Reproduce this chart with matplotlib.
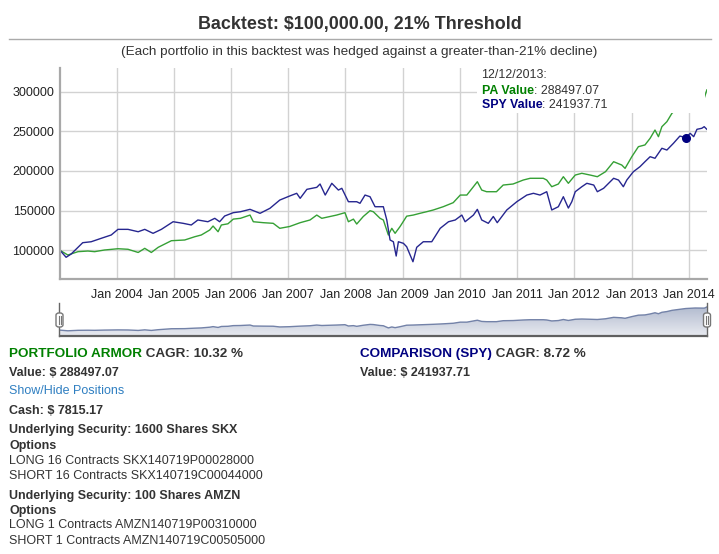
import numpy as np
import pandas as pd
import matplotlib
matplotlib.use('Agg')
import matplotlib.pyplot as plt
import matplotlib.dates as mdates
from matplotlib.patches import Rectangle, FancyBboxPatch
from matplotlib.lines import Line2D
from matplotlib.colors import LinearSegmentedColormap

plt.rcParams['font.family'] = ['Liberation Sans', 'DejaVu Sans']

#
#  Data.
#
spy_dates = ['2003-01-05', '2003-02-13', '2003-03-17', '2003-05-30', '2003-07-23',
             '2003-09-25', '2003-11-28', '2004-01-10', '2004-03-14', '2004-05-18',
             '2004-06-29', '2004-08-21', '2004-10-13', '2004-12-27', '2005-03-01',
             '2005-04-22', '2005-06-03', '2005-08-06', '2005-09-19', '2005-10-20',
             '2005-11-21', '2006-01-15', '2006-03-02', '2006-05-02', '2006-07-05',
             '2006-09-06', '2006-11-08', '2007-01-10', '2007-02-24', '2007-03-18',
             '2007-04-30', '2007-07-02', '2007-07-23', '2007-08-25', '2007-10-06',
             '2007-11-17', '2007-12-09', '2008-01-20', '2008-03-13', '2008-04-03',
             '2008-05-05', '2008-06-06', '2008-07-08', '2008-08-30', '2008-09-21',
             '2008-10-12', '2008-11-02', '2008-11-20', '2008-12-04', '2009-01-05',
             '2009-01-26', '2009-03-07', '2009-03-31', '2009-05-12', '2009-07-05',
             '2009-08-28', '2009-10-20', '2009-12-02', '2010-01-13', '2010-02-03',
             '2010-03-28', '2010-04-22', '2010-05-20', '2010-07-01', '2010-08-02',
             '2010-08-27', '2010-10-27', '2010-12-30', '2011-03-04', '2011-04-15',
             '2011-05-27', '2011-07-09', '2011-08-10', '2011-09-21', '2011-10-23',
             '2011-11-24', '2011-12-16', '2012-01-07', '2012-02-18', '2012-03-21',
             '2012-05-04', '2012-05-27', '2012-07-06', '2012-09-08', '2012-10-09',
             '2012-11-09', '2012-12-01', '2013-01-12', '2013-02-23', '2013-03-27',
             '2013-04-29', '2013-05-30', '2013-06-21', '2013-07-13', '2013-08-14',
             '2013-09-25', '2013-11-05', '2013-12-12', '2014-01-10', '2014-02-01',
             '2014-02-22', '2014-03-25', '2014-04-09', '2014-04-26']
spy_values = [100000, 91200, 95300, 109600, 110800,
              115100, 119300, 126400, 126400, 123400,
              126400, 121400, 126400, 136000, 134000,
              131900, 138200, 136000, 140300, 136000,
              143200, 147400, 148600, 151600, 146600,
              152900, 163300, 168400, 171800, 165500,
              176800, 179300, 183500, 169600, 184400,
              175900, 178100, 161200, 161200, 159200,
              169600, 167500, 154900, 154900, 138200,
              113000, 110800, 92800, 110800, 108800,
              104500, 85600, 103800, 110800, 110800,
              127700, 136000, 138200, 144400, 136000,
              144400, 151600, 138200, 134000, 142600,
              134800, 150800, 161200, 169600, 171800,
              169600, 173800, 150800, 154900, 167500,
              153200, 161200, 173800, 180100, 184400,
              182200, 173800, 178100, 190700, 188500,
              180100, 188500, 199000, 205300, 211600,
              217900, 215900, 222200, 228500, 226300,
              234800, 243900, 241937.71, 247300, 243100,
              252400, 253700, 255700, 252400]

pa_dates = ['2003-01-05', '2003-02-24', '2003-04-30', '2003-07-02', '2003-08-14',
            '2003-10-16', '2004-01-10', '2004-03-14', '2004-05-18', '2004-06-29',
            '2004-08-10', '2004-09-23', '2004-12-16', '2005-03-11', '2005-05-14',
            '2005-06-25', '2005-08-18', '2005-09-08', '2005-10-10', '2005-10-31',
            '2005-12-12', '2006-01-15', '2006-03-02', '2006-05-02', '2006-05-23',
            '2006-07-26', '2006-09-27', '2006-11-08', '2007-01-10', '2007-03-18',
            '2007-05-20', '2007-07-02', '2007-08-03', '2007-09-25', '2007-11-06',
            '2007-12-29', '2008-01-20', '2008-02-21', '2008-03-13', '2008-04-24',
            '2008-06-06', '2008-06-27', '2008-08-09', '2008-08-30', '2008-10-01',
            '2008-10-23', '2008-11-13', '2008-12-15', '2009-01-26', '2009-03-09',
            '2009-04-21', '2009-06-02', '2009-07-15', '2009-09-16', '2009-11-19',
            '2010-01-03', '2010-02-14', '2010-03-28', '2010-04-22', '2010-05-20',
            '2010-06-20', '2010-08-22', '2010-10-04', '2010-12-06', '2011-02-09',
            '2011-03-25', '2011-06-17', '2011-07-09', '2011-08-10', '2011-09-21',
            '2011-10-23', '2011-11-24', '2012-01-07', '2012-02-18', '2012-04-11',
            '2012-05-27', '2012-07-18', '2012-09-08', '2012-10-30', '2012-11-20',
            '2013-01-02', '2013-02-13', '2013-03-27', '2013-04-29', '2013-05-30',
            '2013-06-21', '2013-07-13', '2013-08-14', '2013-09-15', '2013-10-20',
            '2013-12-12', '2014-02-10', '2014-04-10', '2014-04-26']
pa_values = [100000, 94100, 98300, 99100, 98300,
             100400, 102000, 101300, 97300, 102500,
             97300, 103800, 112100, 113000, 117100,
             119300, 125600, 130600, 123400, 131900,
             133400, 139300, 140300, 144400, 136000,
             134800, 134000, 127700, 130000, 134800,
             138200, 144400, 140300, 142600, 144400,
             147400, 136000, 139300, 133100, 142600,
             149900, 148600, 140300, 138200, 119300,
             127700, 121400, 130000, 143000, 144400,
             146600, 148600, 150800, 154900, 160000,
             169600, 169600, 180100, 186400, 175900,
             173800, 173800, 182200, 183500, 188500,
             190700, 190700, 188500, 180100, 183500,
             192700, 184400, 194800, 197000, 194800,
             192700, 199000, 211600, 207400, 203200,
             217900, 230500, 232700, 241100, 251500,
             243100, 255700, 262000, 272500, 279000,
             288497.07, 293000, 292000, 302000]

tick_years = [2004, 2005, 2006, 2007, 2008, 2009, 2010, 2011, 2012, 2013, 2014]
y_ticks = [100000, 150000, 200000, 250000, 300000]

tip_date = '12/12/2013'
pa_tip = '288497.07'
spy_tip = '241937.71'

#
#  Layout helpers (pixel coords on a 719x554 canvas).
#
W, H = 719, 554
def fx(px):
    return px / W
def fy(py):
    return 1 - py / H
def rect(l, t, r, b):
    return [fx(l), fy(b), (r - l) / W, (b - t) / H]

fig = plt.figure(figsize=(W / 100, H / 100), dpi=100)
rend = fig.canvas.get_renderer()

def text_width(s, **kw):
    t = fig.text(0, 0, s, **kw)
    w = t.get_window_extent(renderer=rend).width
    t.remove()
    return w

def put_pieces(x, y, pieces, size):
    # Draw coloured pieces of one line side by side.
    for s, color, weight in pieces:
        fig.text(fx(x), fy(y), s, color=color, fontweight=weight, fontsize=size,
                 ha='left', va='center')
        kw = dict(fontweight=weight, fontsize=size)
        x += text_width(s + '|', **kw) - text_width('|', **kw)

spy_x = mdates.date2num(pd.to_datetime(spy_dates))
pa_x = mdates.date2num(pd.to_datetime(pa_dates))
x_lo = mdates.date2num(pd.Timestamp('2003-01-05'))
x_hi = mdates.date2num(pd.Timestamp('2014-04-27'))

#
#  Title block.
#
fig.text(0.5, fy(25), 'Backtest: $100,000.00, 21% Threshold', ha='center', va='center',
         fontsize=12.9, fontweight='bold', color='#333333')
fig.add_artist(Line2D([fx(9), fx(711)], [fy(38.5), fy(38.5)], color='#aaaaaa', lw=1))
fig.text(0.5, fy(51.5), '(Each portfolio in this backtest was hedged against a greater-than-21% decline)',
         ha='center', va='center', fontsize=9.7, color='#333333')

#
#  Main chart.
#
ax = fig.add_axes(rect(60, 68, 707, 279.3))
ax.plot(pa_x, pa_values, color='#35a035', lw=1.0)
ax.plot(spy_x, spy_values, color='#26268f', lw=1.0)
ax.plot(mdates.date2num(pd.Timestamp('2013-12-12')), float(spy_tip), 'o',
        color='#000080', ms=5.5)

ax.set_xlim(x_lo, x_hi)
ax.set_ylim(63500, 329600)
ax.set_yticks(y_ticks)
ax.set_yticklabels([str(v) for v in y_ticks])
ax.set_xticks(mdates.date2num([pd.Timestamp(f'{y}-01-01') for y in tick_years]))
ax.set_xticklabels([f'Jan {y}' for y in tick_years])
ax.tick_params(length=0, labelsize=9, labelcolor='#222222')
ax.tick_params(axis='y', pad=4)
ax.tick_params(axis='x', pad=7)
ax.grid(True, color='#d2d2d2', lw=1)
ax.set_axisbelow(True)
for s in ['top', 'right']:
    ax.spines[s].set_visible(False)
for s in ['left', 'bottom']:
    ax.spines[s].set_color('#a8a8a8')
    ax.spines[s].set_linewidth(1.6)

#
#  Navigator.
#
nav = fig.add_axes(rect(60, 303, 707, 336))
nav_lo, nav_hi = 48700, 336700
grad = np.linspace(0, 1, 64).reshape(-1, 1)
cmap = LinearSegmentedColormap.from_list('nav', ['#e8eaf0', '#b3bcd0'])
im = nav.imshow(grad, extent=[x_lo, x_hi, nav_lo, 300000], origin='lower',
                aspect='auto', cmap=cmap, zorder=1)
poly = nav.fill_between(pa_x, pa_values, nav_lo, facecolor='none', edgecolor='none')
im.set_clip_path(poly.get_paths()[0], poly.get_transform())
nav.plot(pa_x, pa_values, color='#7382a8', lw=1.0, zorder=2)
nav.set_xlim(x_lo, x_hi)
nav.set_ylim(nav_lo, nav_hi)
nav.set_xticks([])
nav.set_yticks([])
for s in ['top', 'left', 'right']:
    nav.spines[s].set_visible(False)
nav.spines['bottom'].set_color('#606060')
nav.spines['bottom'].set_linewidth(1.6)

# handles
for hx in [59.5, 707]:
    fig.add_artist(Line2D([fx(hx), fx(hx)], [fy(303), fy(336)], color='#666666', lw=1))
    fig.add_artist(FancyBboxPatch((fx(hx - 3.5), fy(327)), 7 / W, 14 / H,
                                  boxstyle='round,pad=0,rounding_size=0.004',
                                  facecolor='white', edgecolor='#777777', lw=1, zorder=3))
    for dx in [-1, 1]:
        fig.add_artist(Line2D([fx(hx + dx), fx(hx + dx)], [fy(316), fy(323.5)],
                              color='#777777', lw=0.8, zorder=4))

#
#  Tooltip.
#
fig.add_artist(Rectangle((fx(477), fy(113)), (705 - 477) / W, (113 - 62) / H,
                         facecolor='white', edgecolor='none', zorder=2))
put_pieces(481.5, 75, [(tip_date + ':', '#333333', 'normal')], 8.9)
put_pieces(481.5, 90.5, [('PA Value', '#008000', 'bold'),
                         (': ' + pa_tip, '#333333', 'normal')], 8.9)
put_pieces(481.5, 105, [('SPY Value', '#000080', 'bold'),
                        (': ' + spy_tip, '#333333', 'normal')], 8.9)

#
#  Summary text below the chart.
#
fs_head = 9.7
fs = 9.0
dark = '#333333'
put_pieces(9, 354, [('PORTFOLIO ARMOR', '#008000', 'bold'),
                    (' CAGR: 10.32 %', dark, 'bold')], fs_head)
put_pieces(360, 354, [('COMPARISON (SPY)', '#000080', 'bold'),
                      (' CAGR: 8.72 %', dark, 'bold')], fs_head)
put_pieces(9, 372.5, [('Value: $ 288497.07', dark, 'bold')], fs)
put_pieces(360, 372.5, [('Value: $ 241937.71', dark, 'bold')], fs)
put_pieces(9, 391.5, [('Show/Hide Positions', '#2f7fc1', 'normal')], fs)
put_pieces(9, 411, [('Cash: $ 7815.17', dark, 'bold')], fs)
put_pieces(9, 430.5, [('Underlying Security: 1600 Shares SKX', dark, 'bold')], fs)
put_pieces(9, 446, [('Options', dark, 'bold')], fs)
put_pieces(9, 461, [('LONG 16 Contracts SKX140719P00028000', dark, 'normal')], fs)
put_pieces(9, 476, [('SHORT 16 Contracts SKX140719C00044000', dark, 'normal')], fs)
put_pieces(9, 495.5, [('Underlying Security: 100 Shares AMZN', dark, 'bold')], fs)
put_pieces(9, 511, [('Options', dark, 'bold')], fs)
put_pieces(9, 525.5, [('LONG 1 Contracts AMZN140719P00310000', dark, 'normal')], fs)
put_pieces(9, 540.5, [('SHORT 1 Contracts AMZN140719C00505000', dark, 'normal')], fs)

fig.savefig('out.png', dpi=100)
